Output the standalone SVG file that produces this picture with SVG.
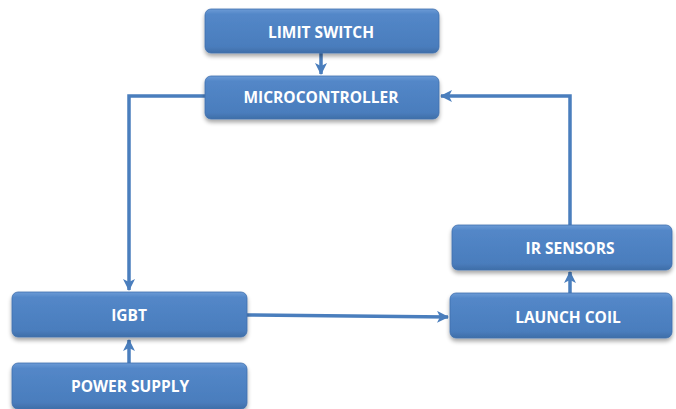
<svg xmlns="http://www.w3.org/2000/svg" width="676" height="409" viewBox="0 0 676 409">
<defs>
<linearGradient id="bg" x1="0" y1="0" x2="0" y2="1">
<stop offset="0" stop-color="#6d9bd6"/>
<stop offset="0.12" stop-color="#5387c8"/>
<stop offset="0.85" stop-color="#4a7dbd"/>
<stop offset="1" stop-color="#3f6ea8"/>
</linearGradient>
<filter id="sh" x="-10%" y="-20%" width="120%" height="160%">
<feGaussianBlur in="SourceAlpha" stdDeviation="2"/>
<feOffset dx="0" dy="3"/>
<feComponentTransfer><feFuncA type="linear" slope="0.35"/></feComponentTransfer>
<feMerge><feMergeNode/><feMergeNode in="SourceGraphic"/></feMerge>
</filter>
<marker id="ah" viewBox="0 0 12 12" refX="11" refY="6" markerWidth="12" markerHeight="12" markerUnits="userSpaceOnUse" orient="auto">
<path d="M0,0 L12,6 L0,12 L3,6 Z" fill="#4a7ebd"/>
</marker>
</defs>
<style>
.box{fill:url(#bg);stroke:#3f70ad;stroke-width:0.8;filter:url(#sh)}
.lbl{font-family:"Open Sans","Liberation Sans",sans-serif;font-weight:bold;font-size:15.5px;fill:#ffffff;text-anchor:middle;dominant-baseline:central}
.con{fill:none;stroke:#4a7ebd;stroke-width:3.5;marker-end:url(#ah)}
</style>
<rect width="676" height="409" fill="#ffffff"/>
<g id="connectors">
<path class="con" d="M321,53 L321,74"/>
<path class="con" d="M205,96 L129,96 L129,290"/>
<path class="con" d="M129,363 L129,340"/>
<path class="con" d="M247,315 L448,317"/>
<path class="con" d="M570,293 L570,272"/>
<path class="con" d="M570,225 L570,96 L441,96"/>
</g>
<g id="limit-switch">
<rect class="box" x="205" y="9" width="234" height="44" rx="6"/>
<text class="lbl" x="321" y="32">LIMIT SWITCH</text>
</g>
<g id="microcontroller">
<rect class="box" x="205" y="76" width="234" height="43" rx="6"/>
<text class="lbl" x="321" y="97">MICROCONTROLLER</text>
</g>
<g id="igbt">
<rect class="box" x="12" y="292" width="235" height="45" rx="6"/>
<text class="lbl" x="129" y="315">IGBT</text>
</g>
<g id="power-supply">
<rect class="box" x="12" y="363" width="235" height="46" rx="6"/>
<text class="lbl" x="130" y="386">POWER SUPPLY</text>
</g>
<g id="ir-sensors">
<rect class="box" x="452" y="225" width="220" height="45" rx="6"/>
<text class="lbl" x="570" y="248">IR SENSORS</text>
</g>
<g id="launch-coil">
<rect class="box" x="450" y="293" width="222" height="45" rx="6"/>
<text class="lbl" x="568" y="317">LAUNCH COIL</text>
</g>
</svg>
